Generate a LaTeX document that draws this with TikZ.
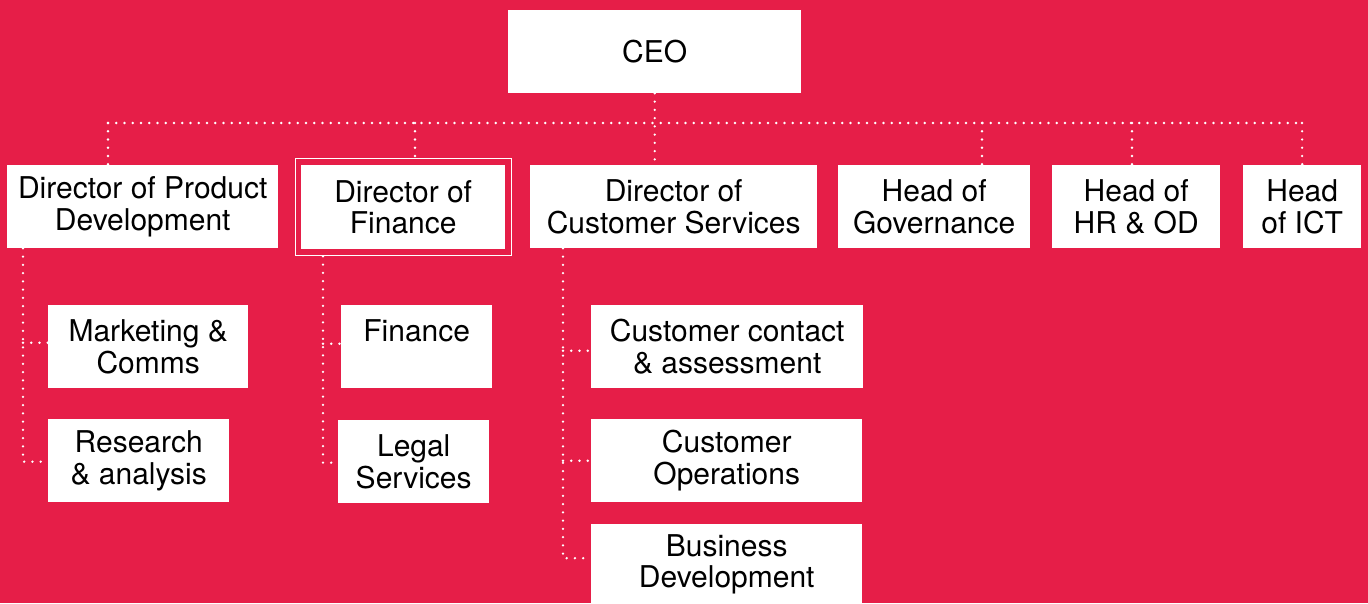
\documentclass[tikz,border=0pt]{standalone}
\usepackage{fontspec}
\setmainfont{TeX Gyre Heros}
\usetikzlibrary{fit}
\definecolor{brandred}{HTML}{E61E48}
\begin{document}
\begin{tikzpicture}[x=1pt,y=-1pt,
  box/.style={fill=white, anchor=north west, inner sep=0pt, align=center,
    text=black, font=\fontsize{30}{31.5}\selectfont, minimum height=83},
  dotline/.style={draw=white, line width=2.6pt, line cap=round,
    dash pattern=on 0pt off 8.25pt},
]
% background
\fill[brandred] (0,0) rectangle (1368,603);
\useasboundingbox (0,0) rectangle (1368,603);

% top level
\node[box, minimum width=293] (ceo) at (508,10) {CEO};

% directors and heads
\node[box, minimum width=271] (dpd)  at (7,165)    {Director of Product\\Development};
\node[box, minimum width=204, minimum height=84] (dof) at (301,165) {Director of\\Finance};
\node[box, minimum width=287] (dcs)  at (530,165)  {Director of\\Customer Services};
\node[box, minimum width=192] (hgov) at (838,165)  {Head of\\Governance};
\node[box, minimum width=168] (hhr)  at (1052,165) {Head of\\HR \& OD};
\node[box, minimum width=118] (hict) at (1243,165) {Head\\of ICT};

% highlight frame around Director of Finance
\node[fit=(dof), inner xsep=6pt, inner ysep=6.5pt, draw=white, line width=1pt] (doff) {};

% teams
\node[box, minimum width=200] (mkt)   at (48,305)  {Marketing \&\\Comms};
\node[box, minimum width=181] (rsa)   at (48,419)  {Research\\\& analysis};
\node[box, minimum width=151] (fin)   at (341,305) {Finance\\\mbox{}};
\node[box, minimum width=151] (legal) at (338,420) {Legal\\Services};
\node[box, minimum width=272] (cca)   at (591,305) {Customer contact\\\& assessment};
\node[box, minimum width=271] (cops)  at (591,419) {Customer\\Operations};
\node[box, minimum width=271, minimum height=80] (bdev) at (591,524) {Business\\Development};

% reporting bus
\coordinate (busL) at (108,123);
\coordinate (busR) at (1302,123);
\coordinate (b2) at (415,123);
\coordinate (b4) at (982,123);
\coordinate (b5) at (1132,123);
\draw[dotline] (busL) -- (busR);
\draw[dotline] (ceo.south) -- (ceo.south |- dcs.north);
\draw[dotline] (busL) -- (busL |- dpd.north);
\draw[dotline] (b2) -- (b2 |- doff.north);
\draw[dotline] (b4) -- (b4 |- hgov.north);
\draw[dotline] (b5) -- (b5 |- hhr.north);
\draw[dotline] (busR) -- (hict.north);

% team spines
\coordinate (s1) at (23,0);
\coordinate (s2) at (323,0);
\coordinate (s3) at (563,0);
\draw[dotline] (dpd.south -| s1) |- ([yshift=-1pt]rsa.west);
\draw[dotline] ([yshift=4pt]s1 |- mkt.west) -- ([yshift=4pt]mkt.west);
\draw[dotline] (doff.south -| s2) |- ([yshift=-1pt]legal.west);
\draw[dotline] ([yshift=3pt]s2 |- fin.west) -- ([yshift=3pt]fin.west);
\draw[dotline] (dcs.south -| s3) |- ([yshift=6pt]bdev.west);
\draw[dotline] ([yshift=-4pt]s3 |- cca.west) -- ([yshift=-4pt]cca.west);
\draw[dotline] (s3 |- cops.west) -- (cops.west);
\end{tikzpicture}
\end{document}
